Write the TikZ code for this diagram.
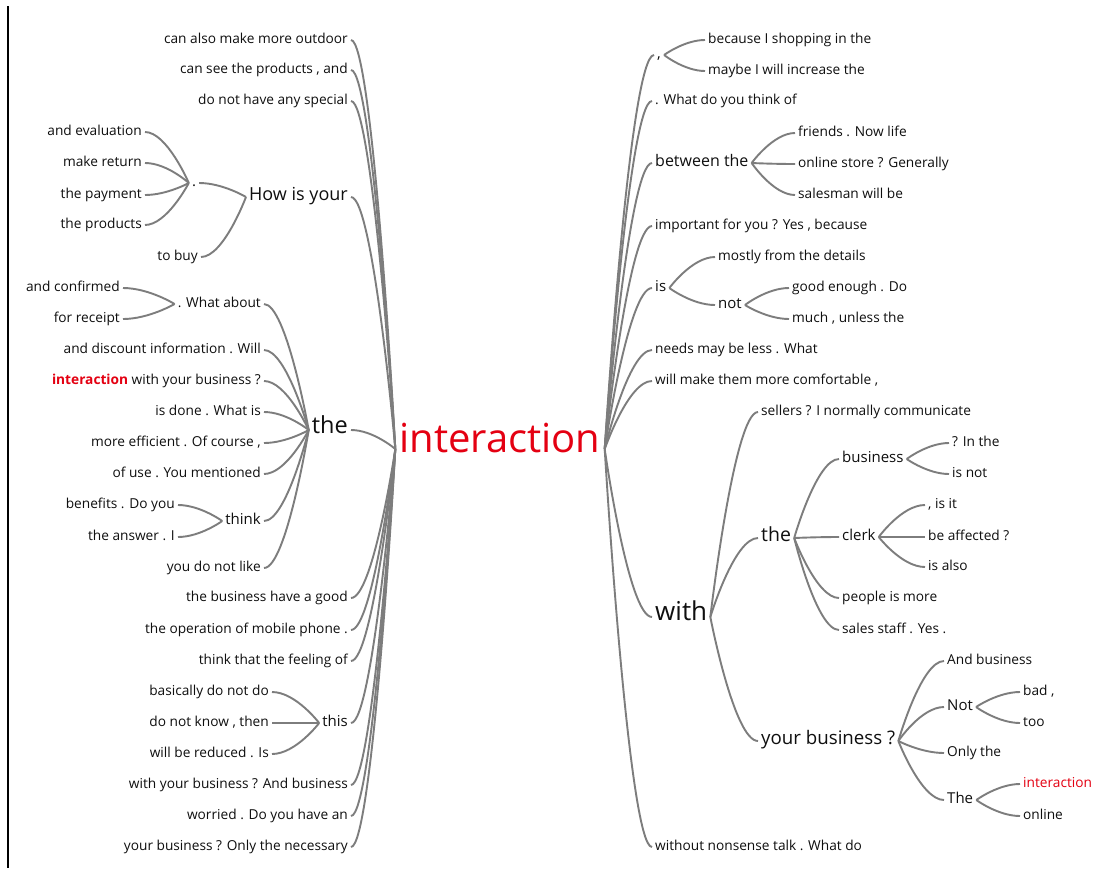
\documentclass[tikz,border=0pt]{standalone}
\usepackage{fontspec}
\setmainfont{Open Sans}
\usetikzlibrary{calc}
\definecolor{lk}{RGB}{125,125,125}
\definecolor{rd}{RGB}{228,0,18}
\definecolor{tx}{RGB}{15,15,15}
\tikzset{
  w/.style={font=\fontsize{13.7}{16}\selectfont, text=tx, inner xsep=3pt, inner ysep=0pt, text height=0.72em, text depth=0pt},
  wm/.style={w, font=\fontsize{15}{18}\selectfont},
  L/.style={anchor=east}, R/.style={anchor=west},
  link/.style={draw=lk, line width=1.9pt},
}
\newcommand\wl[2]{\draw[link] let \p1=(#1), \p2=(#2) in (\p1) .. controls (\p1) and ({0.5*\x1+0.5*\x2},\y2) .. (\p2);}
\begin{document}
\begin{tikzpicture}[x=1pt,y=-1pt]
\useasboundingbox (0,0) rectangle (1105,868);
\fill[white] (0,0) rectangle (1105,868);
\coordinate (ft) at (8,6);
\coordinate (fb) at (8,868);
\draw[line width=1.6pt] (ft) -- (fb);
% root
\node[font=\fontsize{40}{44}\selectfont, text=rd, inner xsep=4pt, inner ysep=0pt, text height=0.72em, text depth=0pt] (root) at (500,449) {interaction};
% ---------- left ----------
\node[w,L] (a1) at (351,40) {can also make more outdoor};
\node[w,L] (a2) at (351,70) {can see the products , and};
\node[w,L] (a3) at (351,101) {do not have any special};
\node[w,L,font=\fontsize{18}{21}\selectfont] (how) at (351,197) {How is your};
\node[w,font=\fontsize{15}{18}\selectfont] (dot) at (194,183) {.};
\node[w,L] (d1) at (145,132) {and evaluation};
\node[w,L] (d2) at (145,163) {make return};
\node[w,L] (d3) at (145,195) {the payment};
\node[w,L] (d4) at (145,225) {the products};
\node[w,L] (tobuy) at (201,257) {to buy};
\node[w,L,font=\fontsize{23.5}{26}\selectfont] (the1) at (351,430) {the};
\node[w,L] (wa) at (264,304) {. What about};
\node[w,L] (wa1) at (123,288) {and confirmed};
\node[w,L] (wa2) at (123,319) {for receipt};
\node[w,L] (t2) at (264,350) {and discount information . Will};
\node[w,L] (t3) at (264,381) {{\bfseries\color{rd}interaction} with your business ?};
\node[w,L] (t4) at (264,412) {is done . What is};
\node[w,L] (t5) at (264,443) {more efficient . Of course ,};
\node[w,L] (t6) at (264,474) {of use . You mentioned};
\node[wm,L] (think) at (264,521) {think};
\node[w,L] (th1) at (178,505) {benefits . Do you};
\node[w,L] (th2) at (178,537) {the answer . I};
\node[w,L] (t8) at (264,568) {you do not like};
\node[w,L] (b1) at (351,598) {the business have a good};
\node[w,L] (b2) at (351,630) {the operation of mobile phone .};
\node[w,L] (b3) at (351,661) {think that the feeling of};
\node[wm,L] (this) at (351,723) {this};
\node[w,L] (ts1) at (272,692) {basically do not do};
\node[w,L] (ts2) at (272,723) {do not know , then};
\node[w,L] (ts3) at (272,754) {will be reduced . Is};
\node[w,L] (b5) at (351,785) {with your business ? And business};
\node[w,L] (b6) at (351,816) {worried . Do you have an};
\node[w,L] (b7) at (351,847) {your business ? Only the necessary};
% left links
\foreach \nd in {a1,a2,a3,how,the1,b1,b2,b3,this,b5,b6,b7}{\wl{root.west}{\nd.east}}
\wl{how.west}{dot.east}
\wl{how.west}{tobuy.east}
\foreach \nd in {d1,d2,d3,d4}{\wl{dot.west}{\nd.east}}
\foreach \nd in {wa,t2,t3,t4,t5,t6,think,t8}{\wl{the1.west}{\nd.east}}
\wl{wa.west}{wa1.east}
\wl{wa.west}{wa2.east}
\wl{think.west}{th1.east}
\wl{think.west}{th2.east}
\foreach \nd in {ts1,ts2,ts3}{\wl{this.west}{\nd.east}}
% ---------- right ----------
\node[wm,R] (cm) at (654,55) {,};
\node[w,R] (cm1) at (705,40) {because I shopping in the};
\node[w,R] (cm2) at (705,71) {maybe I will increase the};
\node[w,R] (r2) at (652,101) {. What do you think of};
\node[w,R,font=\fontsize{16}{19}\selectfont] (betw) at (652,163) {between the};
\node[w,R] (bt1) at (795,133) {friends . Now life};
\node[w,R] (bt2) at (795,164) {online store ? Generally};
\node[w,R] (bt3) at (795,195) {salesman will be};
\node[w,R] (r4) at (652,226) {important for you ? Yes , because};
\node[wm,R] (is) at (652,288) {is};
\node[w,R] (is1) at (715,257) {mostly from the details};
\node[wm,R] (not) at (715,305) {not};
\node[w,R] (no1) at (789,288) {good enough . Do};
\node[w,R] (no2) at (789,319) {much , unless the};
\node[w,R] (r6) at (652,350) {needs may be less . What};
\node[w,R] (r7) at (652,381) {will make them more comfortable ,};
\node[w,R,font=\fontsize{26}{30}\selectfont] (with) at (652,617) {with};
\node[w,R] (sel) at (758,412) {sellers ? I normally communicate};
\node[w,R,font=\fontsize{19.5}{23}\selectfont] (the2) at (758,538) {the};
\node[wm,R] (bus) at (839,459) {business};
\node[w,R] (bu1) at (949,443) {? In the};
\node[w,R] (bu2) at (949,474) {is not};
\node[wm,R] (clerk) at (839,537) {clerk};
\node[w,R] (cl1) at (925,505) {, is it};
\node[w,R] (cl2) at (925,537) {be affected ?};
\node[w,R] (cl3) at (925,567) {is also};
\node[w,R] (pe) at (839,598) {people is more};
\node[w,R] (ss) at (839,630) {sales staff . Yes .};
\node[w,R,font=\fontsize{18.7}{22}\selectfont] (yb) at (758,741) {your business ?};
\node[w,R] (y1) at (944,661) {And business};
\node[wm,R] (Not) at (944,707) {Not};
\node[w,R] (n1) at (1020,692) {bad ,};
\node[w,R] (n2) at (1020,723) {too};
\node[w,R] (y3) at (944,753) {Only the};
\node[wm,R] (The) at (944,800) {The};
\node[w,R,text=rd] (e1) at (1020,784) {interaction};
\node[w,R] (e2) at (1020,816) {online};
\node[w,R] (r9) at (652,847) {without nonsense talk . What do};
% right links
\foreach \nd in {cm,r2,betw,r4,is,r6,r7,with,r9}{\wl{root.east}{\nd.west}}
\wl{cm.east}{cm1.west}
\wl{cm.east}{cm2.west}
\foreach \nd in {bt1,bt2,bt3}{\wl{betw.east}{\nd.west}}
\wl{is.east}{is1.west}
\wl{is.east}{not.west}
\wl{not.east}{no1.west}
\wl{not.east}{no2.west}
\foreach \nd in {sel,the2,yb}{\wl{with.east}{\nd.west}}
\foreach \nd in {bus,clerk,pe,ss}{\wl{the2.east}{\nd.west}}
\wl{bus.east}{bu1.west}
\wl{bus.east}{bu2.west}
\foreach \nd in {cl1,cl2,cl3}{\wl{clerk.east}{\nd.west}}
\foreach \nd in {y1,Not,y3,The}{\wl{yb.east}{\nd.west}}
\wl{Not.east}{n1.west}
\wl{Not.east}{n2.west}
\wl{The.east}{e1.west}
\wl{The.east}{e2.west}
\end{tikzpicture}
\end{document}
